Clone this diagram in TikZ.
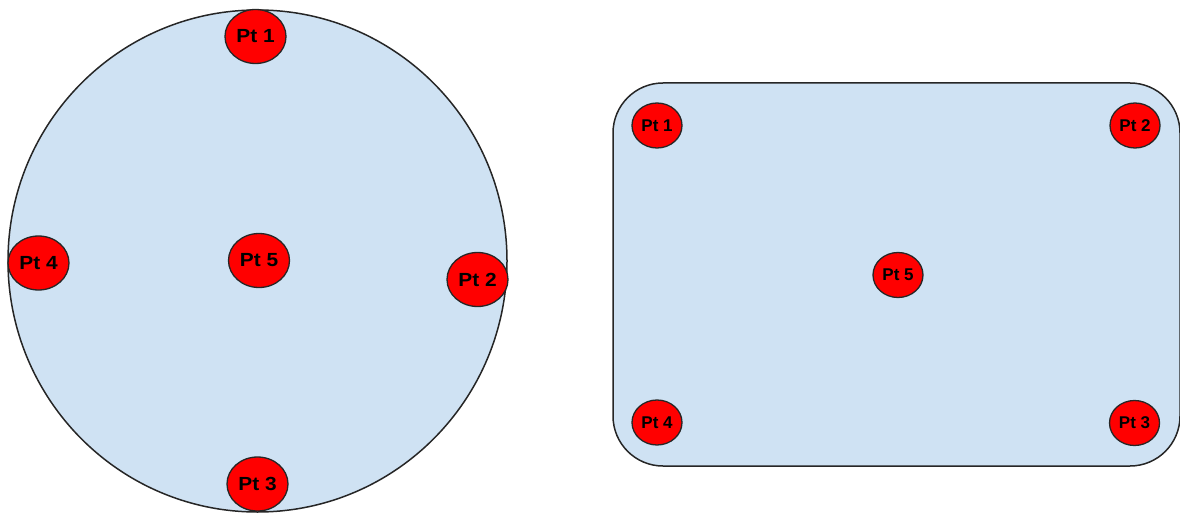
\documentclass[tikz,border=0pt]{standalone}
\usepackage{fontspec}
\setmainfont{Liberation Sans}
\definecolor{shapefill}{HTML}{CFE2F3}
\definecolor{ptred}{HTML}{FF0000}
\tikzset{
  shapeline/.style={draw=black!85, line width=1.5pt, fill=shapefill},
  bigpt/.style={draw=black!85, line width=1.3pt, fill=ptred, ellipse, inner sep=0pt,
    minimum width=61pt, minimum height=54pt, font=\fontsize{19}{21}\selectfont\bfseries},
  smallpt/.style={draw=black!85, line width=1.3pt, fill=ptred, ellipse, inner sep=0pt,
    minimum width=50pt, minimum height=45pt, font=\fontsize{17}{19}\selectfont\bfseries},
}
\usetikzlibrary{shapes.geometric}
\begin{document}
\begin{tikzpicture}[x=1pt,y=-1pt]
\useasboundingbox (0,0) rectangle (1180,513);
% left circle
\node[shapeline, ellipse, minimum width=499pt, minimum height=502pt, inner sep=0pt] (circ) at (257.5,261) {};
% right rounded rectangle
\node[shapeline, rectangle, rounded corners=50pt, minimum width=567pt, minimum height=383pt, inner sep=0pt] (rect) at (896.5,274.5) {};
% left points
\node[bigpt] (c1) at (255.5,36.5) {\scalebox{1.1}[1]{Pt 1}};
\node[bigpt] (c2) at (477.5,279.5) {\scalebox{1.1}[1]{Pt 2}};
\node[bigpt] (c3) at (257.5,484) {\scalebox{1.1}[1]{Pt 3}};
\node[bigpt] (c4) at (38.5,263) {\scalebox{1.1}[1]{Pt 4}};
\node[bigpt] (c5) at (259,260.5) {\scalebox{1.1}[1]{Pt 5}};
% right points
\node[smallpt] (r1) at (657,125.5) {Pt 1};
\node[smallpt] (r2) at (1135,125.5) {Pt 2};
\node[smallpt] (r3) at (1134.5,423) {Pt 3};
\node[smallpt] (r4) at (657,422.5) {Pt 4};
\node[smallpt] (r5) at (898,275) {Pt 5};
\end{tikzpicture}
\end{document}
